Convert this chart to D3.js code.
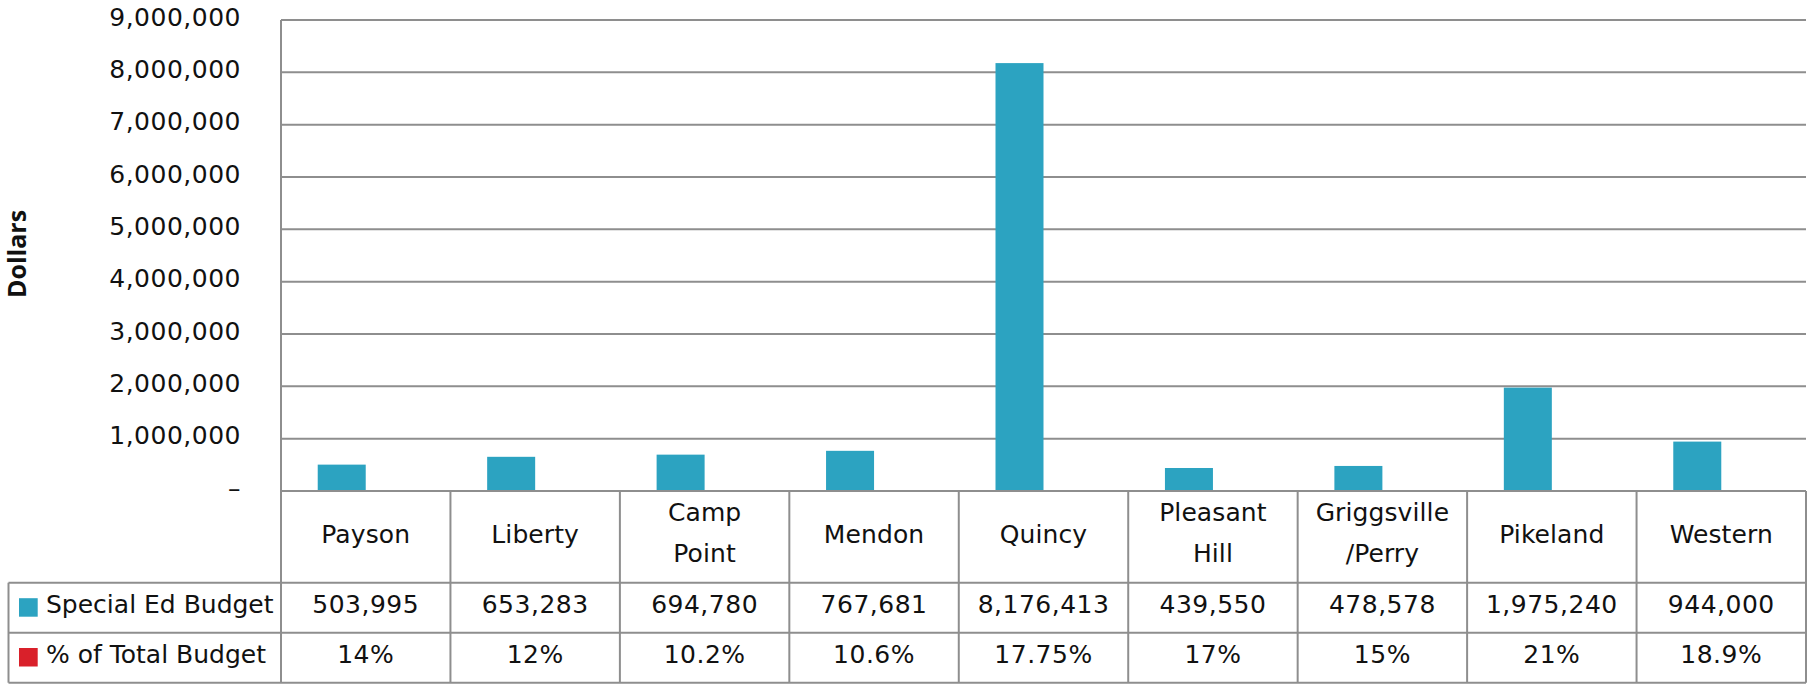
<!DOCTYPE html>
<html>
<head>
<meta charset="utf-8">
<script src="https://cdn.jsdelivr.net/npm/d3@7"></script>
<style>
  html, body { margin: 0; padding: 0; background: #fff; }
  svg { display: block; }
  text { font-family: "DejaVu Sans", Verdana, sans-serif; fill: #111; }
</style>
</head>
<body>
<svg id="chart" width="1807" height="685"></svg>
<script>
// District names (a "\n" marks a line break in the table header)
const categories = ["Payson", "Liberty", "Camp\nPoint", "Mendon", "Quincy",
                    "Pleasant\nHill", "Griggsville\n/Perry", "Pikeland", "Western"];
// Special education budget in dollars
const specialEdBudget = [503995, 653283, 694780, 767681, 8176413, 439550, 478578, 1975240, 944000];
// Special ed share of each district's total budget
const pctOfTotal = [0.14, 0.12, 0.102, 0.106, 0.1775, 0.17, 0.15, 0.21, 0.189];
// Y axis ticks
const yTicks = [0, 1000000, 2000000, 3000000, 4000000, 5000000, 6000000, 7000000, 8000000, 9000000];
const seriesNames = ["Special Ed Budget", "% of Total Budget"];
const seriesColors = ["#2ca3c1", "#d9202a"];

const svg = d3.select("#chart");
const plotLeft = 281, plotRight = 1806, plotTop = 20, plotBottom = 491;
const tableLeft = 8.5;
const rowEdges = [plotBottom, 582.7, 632.7, 682.7];
const gridColor = "#8e8e8e";
const fontSize = 25;
const numSpacing = "0.5px";
const wordSpacing = "0.1px";

const x = d3.scaleBand().domain(categories).range([plotLeft, plotRight]).padding(0);
const xInner = d3.scaleBand().domain(seriesNames).range([0, x.bandwidth()])
  .paddingInner(0).paddingOuter(0.765);
const y = d3.scaleLinear().domain([0, 9000000]).range([plotBottom, plotTop]);

// Horizontal gridlines
svg.append("g").selectAll("line").data(yTicks.slice(1)).join("line")
  .attr("x1", plotLeft).attr("x2", plotRight)
  .attr("y1", d => y(d)).attr("y2", d => y(d))
  .attr("stroke", gridColor).attr("stroke-width", 2);

// Y axis labels
const yAxis = d3.axisLeft(y).tickValues(yTicks).tickSize(0).tickPadding(40)
  .tickFormat(d => d === 0 ? "\u2013" : d3.format(",")(d));
const yg = svg.append("g").attr("transform", `translate(${plotLeft},0)`).call(yAxis);
yg.select(".domain").remove();
yg.selectAll("text")
  .attr("font-family", "DejaVu Sans, Verdana, sans-serif")
  .attr("font-size", fontSize).attr("letter-spacing", numSpacing)
  .attr("fill", "#111").attr("dy", "0.2em");

// Axis title
svg.append("text")
  .attr("transform", `translate(26,254) rotate(-90)`)
  .attr("text-anchor", "middle")
  .style("font-family", "'Open Sans', 'Liberation Sans', sans-serif")
  .attr("font-size", 25).attr("font-weight", "bold")
  .text("Dollars");

// Bars
svg.append("g").selectAll("rect").data(specialEdBudget).join("rect")
  .attr("x", (d, i) => x(categories[i]) + xInner(seriesNames[0]))
  .attr("width", xInner.bandwidth())
  .attr("y", d => y(d))
  .attr("height", d => plotBottom - y(d))
  .attr("fill", seriesColors[0]);

// Data table grid
const grid = svg.append("g").attr("stroke", gridColor).attr("stroke-width", 2).attr("fill", "none");
// vertical axis line down through the table
grid.append("line").attr("x1", plotLeft).attr("x2", plotLeft).attr("y1", plotTop).attr("y2", rowEdges[3]);
// baseline / header top
grid.append("line").attr("x1", plotLeft).attr("x2", plotRight).attr("y1", rowEdges[0]).attr("y2", rowEdges[0]);
// row separators spanning the legend column
[rowEdges[1], rowEdges[2], rowEdges[3]].forEach(yy => {
  grid.append("line").attr("x1", tableLeft).attr("x2", plotRight).attr("y1", yy).attr("y2", yy);
});
// left border of legend column
grid.append("line").attr("x1", tableLeft).attr("x2", tableLeft).attr("y1", rowEdges[1]).attr("y2", rowEdges[3]);
// category column dividers
categories.forEach(c => {
  const xx = x(c) + x.bandwidth();
  grid.append("line").attr("x1", xx).attr("x2", xx).attr("y1", rowEdges[0]).attr("y2", rowEdges[3]);
});

// Category headers
const header = svg.append("g").attr("text-anchor", "middle").attr("font-size", fontSize)
  .attr("letter-spacing", wordSpacing);
categories.forEach(c => {
  const lines = c.split("\n");
  const cx = x(c) + x.bandwidth() / 2;
  const t = header.append("text").attr("x", cx);
  if (lines.length === 1) {
    t.attr("y", 542.5).text(lines[0]);
  } else {
    lines.forEach((ln, k) => {
      t.append("tspan").attr("x", cx).attr("y", 520.5 + k * 41.8).text(ln);
    });
  }
});

// Table rows: legend swatch, row name and values
const fmtPct = v => (+(v * 100).toFixed(2)) + "%";
const rows = [
  { name: seriesNames[0], color: seriesColors[0], values: specialEdBudget.map(d3.format(",")), base: 612.7 },
  { name: seriesNames[1], color: seriesColors[1], values: pctOfTotal.map(fmtPct), base: 662.5 }
];
rows.forEach(r => {
  svg.append("rect").attr("x", 19).attr("y", r.base - 14.5).attr("width", 18.7).attr("height", 18.5)
    .attr("fill", r.color);
  svg.append("text").attr("x", 46).attr("y", r.base).attr("font-size", fontSize)
    .attr("letter-spacing", "0px").text(r.name);
  svg.append("g").attr("text-anchor", "middle").attr("font-size", fontSize).attr("letter-spacing", numSpacing)
    .selectAll("text").data(r.values).join("text")
    .attr("x", (d, i) => x(categories[i]) + x.bandwidth() / 2)
    .attr("y", r.base).text(d => d);
});
</script>
</body>
</html>
